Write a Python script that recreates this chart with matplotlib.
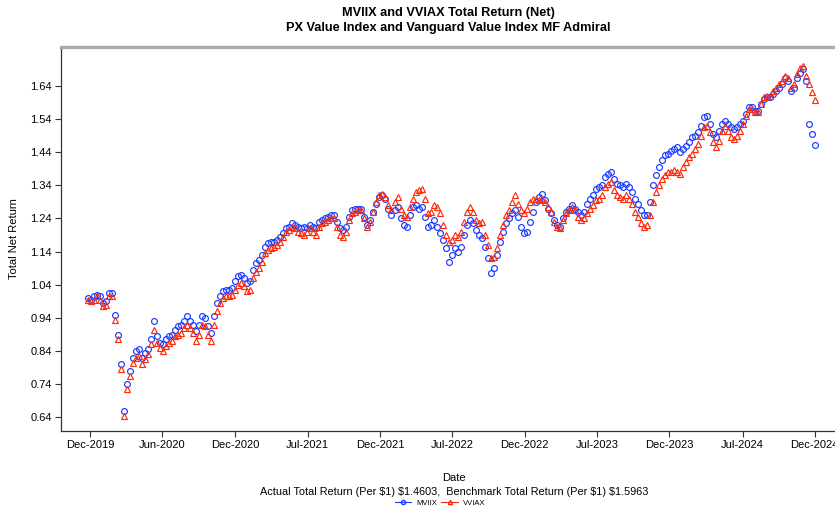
import matplotlib
matplotlib.use("Agg")
import matplotlib.pyplot as plt
from matplotlib.lines import Line2D
import pandas as pd

plt.rcParams['font.family'] = ['Liberation Sans', 'DejaVu Sans']

# ---------------- data ----------------
start_date = "2019-12-26"
end_date = "2024-12-31"

mviix = [1.000, 0.995, 1.005, 1.010, 1.005, 0.985, 0.990, 1.015, 1.015, 0.950,
         0.890, 0.800, 0.660, 0.740, 0.780, 0.820, 0.840, 0.845, 0.820, 0.835,
         0.845, 0.875, 0.930, 0.885, 0.865, 0.860, 0.875, 0.885, 0.890, 0.905,
         0.915, 0.920, 0.930, 0.945, 0.930, 0.920, 0.900, 0.920, 0.945, 0.940,
         0.915, 0.895, 0.945, 0.985, 1.005, 1.020, 1.025, 1.025, 1.030, 1.050,
         1.065, 1.070, 1.060, 1.045, 1.050, 1.085, 1.105, 1.115, 1.130, 1.155,
         1.165, 1.170, 1.170, 1.175, 1.185, 1.195, 1.210, 1.215, 1.225, 1.220,
         1.215, 1.210, 1.215, 1.210, 1.220, 1.215, 1.210, 1.230, 1.235, 1.240,
         1.245, 1.250, 1.250, 1.230, 1.210, 1.205, 1.215, 1.245, 1.265, 1.270,
         1.270, 1.270, 1.245, 1.220, 1.235, 1.260, 1.285, 1.305, 1.310, 1.300,
         1.270, 1.250, 1.265, 1.275, 1.240, 1.220, 1.215, 1.250, 1.275, 1.280,
         1.270, 1.275, 1.245, 1.215, 1.220, 1.235, 1.215, 1.195, 1.175, 1.150,
         1.110, 1.130, 1.150, 1.140, 1.155, 1.190, 1.220, 1.235, 1.225, 1.205,
         1.190, 1.180, 1.155, 1.120, 1.075, 1.090, 1.130, 1.170, 1.200, 1.225,
         1.240, 1.255, 1.265, 1.245, 1.215, 1.195, 1.200, 1.230, 1.260, 1.290,
         1.305, 1.315, 1.295, 1.270, 1.255, 1.235, 1.220, 1.215, 1.240, 1.260,
         1.270, 1.280, 1.270, 1.260, 1.250, 1.260, 1.285, 1.300, 1.310, 1.330,
         1.335, 1.340, 1.365, 1.375, 1.380, 1.360, 1.345, 1.340, 1.335, 1.345,
         1.335, 1.320, 1.300, 1.285, 1.265, 1.250, 1.250, 1.290, 1.340, 1.370,
         1.395, 1.415, 1.430, 1.435, 1.445, 1.450, 1.455, 1.440, 1.450, 1.460,
         1.470, 1.485, 1.490, 1.500, 1.520, 1.545, 1.550, 1.525, 1.495, 1.485,
         1.505, 1.525, 1.535, 1.525, 1.515, 1.510, 1.515, 1.525, 1.535, 1.555,
         1.575, 1.575, 1.565, 1.565, 1.585, 1.600, 1.605, 1.605, 1.615, 1.625,
         1.635, 1.645, 1.665, 1.655, 1.625, 1.635, 1.665, 1.680, 1.690, 1.655,
         1.525, 1.495, 1.4603]

vviax = [0.995, 0.990, 0.995, 1.005, 0.995, 0.975, 0.980, 1.005, 1.005, 0.935,
         0.875, 0.785, 0.645, 0.725, 0.765, 0.805, 0.820, 0.825, 0.800, 0.815,
         0.830, 0.860, 0.905, 0.865, 0.850, 0.840, 0.855, 0.865, 0.870, 0.885,
         0.890, 0.895, 0.910, 0.920, 0.910, 0.895, 0.870, 0.890, 0.920, 0.915,
         0.890, 0.870, 0.920, 0.960, 0.985, 1.000, 1.005, 1.005, 1.010, 1.025,
         1.040, 1.045, 1.035, 1.020, 1.025, 1.060, 1.080, 1.090, 1.110, 1.135,
         1.145, 1.150, 1.155, 1.160, 1.170, 1.185, 1.200, 1.205, 1.215, 1.210,
         1.200, 1.195, 1.190, 1.200, 1.210, 1.200, 1.190, 1.215, 1.225, 1.230,
         1.235, 1.240, 1.240, 1.215, 1.190, 1.185, 1.200, 1.235, 1.255, 1.260,
         1.265, 1.265, 1.240, 1.215, 1.230, 1.260, 1.290, 1.310, 1.315, 1.305,
         1.280, 1.265, 1.290, 1.305, 1.270, 1.250, 1.245, 1.275, 1.300, 1.320,
         1.325, 1.330, 1.300, 1.255, 1.260, 1.280, 1.275, 1.255, 1.220, 1.190,
         1.170, 1.175, 1.190, 1.185, 1.200, 1.230, 1.260, 1.275, 1.260, 1.235,
         1.225, 1.230, 1.190, 1.160, 1.120, 1.125, 1.150, 1.190, 1.220, 1.250,
         1.265, 1.290, 1.310, 1.285, 1.265, 1.255, 1.270, 1.290, 1.300, 1.300,
         1.295, 1.300, 1.290, 1.275, 1.260, 1.230, 1.215, 1.210, 1.235, 1.255,
         1.265, 1.275, 1.265, 1.245, 1.235, 1.240, 1.255, 1.270, 1.280, 1.295,
         1.300, 1.310, 1.335, 1.345, 1.350, 1.325, 1.310, 1.305, 1.300, 1.310,
         1.300, 1.285, 1.260, 1.245, 1.225, 1.215, 1.220, 1.250, 1.290, 1.320,
         1.340, 1.360, 1.370, 1.380, 1.380, 1.385, 1.380, 1.375, 1.395, 1.410,
         1.425, 1.435, 1.450, 1.465, 1.490, 1.515, 1.520, 1.500, 1.470, 1.455,
         1.475, 1.505, 1.520, 1.505, 1.485, 1.480, 1.490, 1.505, 1.525, 1.550,
         1.570, 1.570, 1.560, 1.560, 1.585, 1.605, 1.610, 1.610, 1.625, 1.635,
         1.645, 1.655, 1.670, 1.665, 1.635, 1.645, 1.675, 1.695, 1.700, 1.670,
         1.645, 1.620, 1.5963]

series_names = ["MVIIX", "VVIAX"]
tick_dates = ["2019-12-31", "2020-06-30", "2020-12-30", "2021-07-01", "2021-12-31",
              "2022-07-01", "2022-12-30", "2023-07-01", "2023-12-30", "2024-07-01",
              "2024-12-30"]
tick_labels = ["Dec-2019", "Jun-2020", "Dec-2020", "Jul-2021", "Dec-2021", "Jul-2022",
               "Dec-2022", "Jul-2023", "Dec-2023", "Jul-2024", "Dec-2024"]
y_ticks = [0.64, 0.74, 0.84, 0.94, 1.04, 1.14, 1.24, 1.34, 1.44, 1.54, 1.64]
actual_total = 1.4603
bench_total = 1.5963

# ---------------- plot ----------------
dates = pd.date_range(start_date, end_date, periods=len(mviix))

blue = "#1a3cff"
red = "#ff2a0a"

fig = plt.figure(figsize=(8.35, 5.08), dpi=100)
ax = fig.add_axes([0.0731, 0.1516, 0.9269, 0.908 - 0.1516])

ax.plot(dates, mviix, linestyle="none", marker="o", ms=4.2, mfc="none",
        mec=blue, mew=0.85)
ax.plot(dates, vviax, linestyle="none", marker="^", ms=4.4, mfc="none",
        mec=red, mew=0.85)

ax.set_xlim(pd.Timestamp("2019-10-19"), pd.Timestamp("2025-02-19"))
ax.set_ylim(0.599, 1.758)
ax.set_yticks(y_ticks)
ax.set_yticklabels([f"{v:.2f}" for v in y_ticks])
ax.set_xticks(pd.to_datetime(tick_dates))
ax.set_xticklabels(tick_labels)
ax.tick_params(axis="both", direction="out", length=4, width=0.8,
               labelsize=8, pad=2.5, color="#333333")

for side in ["left", "bottom"]:
    ax.spines[side].set_color("#333333")
    ax.spines[side].set_linewidth(0.9)
ax.spines["top"].set_color("#aaaaaa")
ax.spines["top"].set_linewidth(2.4)
ax.spines["right"].set_visible(False)

ax.set_ylabel("Total Net Return", fontsize=8, labelpad=8)
ax.set_title("MVIIX and VVIAX Total Return (Net)\nPX Value Index and Vanguard Value Index MF Admiral",
             fontsize=9.2, fontweight="bold", pad=11, linespacing=1.4)

cx = 0.544
fig.text(cx, 1 - 478 / 508, "Date", ha="center", va="center", fontsize=8)
fig.text(cx, 1 - 492 / 508,
         f"Actual Total Return (Per \\$1) \\${actual_total:.4f},  Benchmark Total Return (Per \\$1) \\${bench_total:.4f}",
         ha="center", va="center", fontsize=7.85)

handles = [Line2D([], [], color=blue, marker="o", mfc="none", mec=blue, ms=3, lw=0.8),
           Line2D([], [], color=red, marker="^", mfc="none", mec=red, ms=3, lw=0.8)]
fig.legend(handles, series_names, loc="center", bbox_to_anchor=(0.527, 1 - 503 / 508),
           ncol=2, frameon=False, fontsize=5.5, handlelength=2.2, handletextpad=0.6,
           columnspacing=0.6, borderpad=0)

fig.savefig("out.png", dpi=100)
